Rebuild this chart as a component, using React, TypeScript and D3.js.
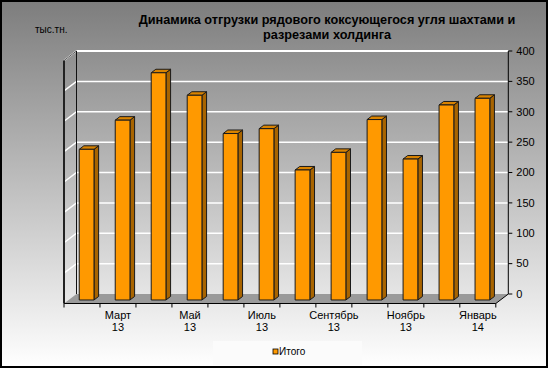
import React from 'react'
import * as d3 from 'd3'

const categories = [
  'Февраль 13', 'Март 13', 'Апрель 13', 'Май 13', 'Июнь 13', 'Июль 13',
  'Август 13', 'Сентябрь 13', 'Октябрь 13', 'Ноябрь 13', 'Декабрь 13', 'Январь 14',
]
const totals = [248, 296, 374, 337, 274, 282, 214, 243, 297, 232, 321, 332]
const seriesName = 'Итого'
const unitLabel = 'тыс.тн.'
const titleLines = ['Динамика отгрузки рядового коксующегося угля шахтами и', 'разрезами холдинга']

export default function App() {
  const width = 548
  const height = 368
  const font = '"Liberation Sans", Arial, sans-serif'

  // oblique 3d frame: front plane + depth offset
  const left = 64
  const right = 495.8
  const base = 303.5
  const DX = 12.5
  const DY = 9.5

  const xScale = d3.scaleBand<string>().domain(categories).range([left, right]).padding(0)
  const yScale = d3.scaleLinear().domain([0, 400]).range([base, base - 243])
  const yTicks = yScale.ticks(8)

  const P = (x: number, y: number, d: number) => [x + d * DX, y - d * DY] as [number, number]
  const pts = (arr: [number, number][]) => arr.map(p => p.join(',')).join(' ')

  const dFront = 0.37
  const dBack = 0.74
  const barW = xScale.bandwidth() * 0.41

  const line = d3.line()

  return (
    <svg width={width} height={height} style={{ position: 'absolute', left: 0, top: 0 }} fontFamily={font}>
      <defs>
        <linearGradient id="bg" x1="0" y1="0" x2="0" y2="1">
          <stop offset="0%" stopColor="#7d7d7d" />
          <stop offset="100%" stopColor="#ffffff" />
        </linearGradient>
      </defs>
      <rect x={1} y={1} width={width - 2} height={height - 2} fill="url(#bg)" stroke="#000" strokeWidth={2} />

      {/* title */}
      {titleLines.map((t, i) => (
        <text key={i} x={327} y={24 + i * 15} textAnchor="middle" fontSize={12.7} fontWeight="bold" fill="#000">{t}</text>
      ))}
      <text x={35} y={33} fontSize={10} fill="#000">{unitLabel}</text>

      {/* floor */}
      <polygon
        points={pts([P(left, base, 0), P(left, base, 1), P(right, base, 1), P(right, base, 0)])}
        fill="#9a9a9a"
      />
      <path d={line([P(left, base, 0), P(right, base, 0), P(right, base, 1)]) || ''} fill="none" stroke="#000" strokeWidth={1} />

      {/* gridlines: back wall + left wall */}
      {yTicks.map(v => (
        <g key={v}>
          <path d={line([P(left, yScale(v), 0), P(left, yScale(v), 1), P(right, yScale(v), 1)]) || ''}
            fill="none" stroke="#fff" strokeWidth={v === 0 ? 0 : 1.5} />
        </g>
      ))}
      <path d={line([P(left, yScale(400), 1), P(right, yScale(400), 1)]) || ''} fill="none" stroke="#fff" strokeWidth={2} />
      <path d={line([P(left, yScale(400), 0), P(left, yScale(400), 1)]) || ''} fill="none" stroke="#555" strokeWidth={1} />

      {/* wall edges */}
      <path d={line([P(left, yScale(400), 1), P(left, yScale(0), 1)]) || ''} fill="none" stroke="#111" strokeWidth={1} />
      <path d={line([P(left, yScale(400), 0), P(left, yScale(0), 0)]) || ''} fill="none" stroke="#222" strokeWidth={2} />

      {/* right value axis */}
      <path d={line([P(right, yScale(400), 1), P(right, yScale(0), 1)]) || ''} fill="none" stroke="#000" strokeWidth={1} />
      {yTicks.map(v => {
        const [x, y] = P(right, yScale(v), 1)
        return (
          <g key={'t' + v}>
            <line x1={x} x2={x + 4} y1={y} y2={y} stroke="#000" />
            <text x={x + 8} y={y} dy="0.35em" fontSize={11} fill="#000">{v}</text>
          </g>
        )
      })}

      {/* bars */}
      {totals.map((v, i) => {
        const cx = (xScale(categories[i]) || 0) + xScale.bandwidth() / 2
        const x0 = cx - barW / 2
        const x1 = cx + barW / 2
        const y0 = yScale(0)
        const y1 = yScale(v)
        const front: [number, number][] = [P(x0, y1, dFront), P(x1, y1, dFront), P(x1, y0, dFront), P(x0, y0, dFront)]
        const side: [number, number][] = [P(x1, y1, dFront), P(x1, y1, dBack), P(x1, y0, dBack), P(x1, y0, dFront)]
        const top: [number, number][] = [P(x0, y1, dFront), P(x0, y1, dBack), P(x1, y1, dBack), P(x1, y1, dFront)]
        return (
          <g key={i} stroke="#1a1a1a" strokeWidth={1} strokeLinejoin="round">
            <polygon points={pts(side)} fill="#a86400" />
            <polygon points={pts(top)} fill="#d98300" />
            <polygon points={pts(front)} fill="#ff9900" />
          </g>
        )
      })}

      {/* category axis ticks and labels */}
      {d3.range(categories.length + 1).map(k => {
        const x = left + k * xScale.step()
        return <line key={'c' + k} x1={x} x2={x} y1={base} y2={base + 4} stroke="#000" />
      })}
      {categories.map((c, i) => i % 2 === 1 ? (
        <text key={c} x={(xScale(c) || 0) + xScale.bandwidth() / 2} y={319} textAnchor="middle" fontSize={11} fill="#000">
          {c.split(' ').map((part, j) => (
            <tspan key={j} x={(xScale(c) || 0) + xScale.bandwidth() / 2} dy={j === 0 ? 0 : 12}>{part}</tspan>
          ))}
        </text>
      ) : null)}

      {/* legend */}
      <rect x={213} y={341} width={149} height={24} fill="#fbfbfb" />
      <rect x={273} y={349} width={5} height={5} fill="#ff9900" stroke="#000" strokeWidth={0.8} />
      <text x={279} y={355} fontSize={10} fill="#000">{seriesName}</text>
    </svg>
  )
}
